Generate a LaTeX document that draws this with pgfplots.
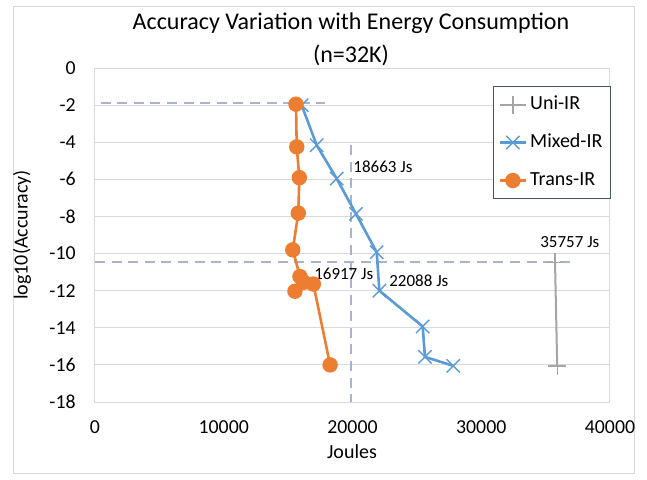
\documentclass[border=0pt]{standalone}
\usepackage{fontspec}
\setmainfont{Carlito}
\usepackage{pgfplots}
\pgfplotsset{compat=1.18}
\definecolor{cOrange}{HTML}{ED7D31}
\definecolor{cBlue}{HTML}{5B9BD5}
\definecolor{cGray}{HTML}{A5A5A5}
\definecolor{cDash}{HTML}{A9B4C8}
\definecolor{cGrid}{HTML}{D9D9D9}
\definecolor{cLeg}{HTML}{44546A}
\begin{document}
\begin{tikzpicture}[x=1pt,y=1pt]
\path (0,0) rectangle (323.5,239.5);
\draw[cGrid, line width=0.5pt] (6.5,3) rectangle (317,236.5);
\node[font=\fontsize{12}{14}\selectfont, inner sep=0pt] at (175.5,228) {Accuracy Variation with Energy Consumption};
\node[font=\fontsize{12}{14}\selectfont, inner sep=0pt] at (175.5,212) {(n=32K)};
\begin{axis}[
  at={(47.5pt,38.5pt)}, anchor=south west,
  scale only axis, width=257.5pt, height=167pt,
  xmin=0, xmax=40000, ymin=-18, ymax=0,
  xtick={0,10000,20000,30000,40000},
  ytick={-18,-16,-14,-12,-10,-8,-6,-4,-2,0},
  scaled ticks=false,
  /pgf/number format/.cd, 1000 sep={}, assume math mode=true, /pgfplots/.cd,
  tick style={draw=none},
  ymajorgrids, grid style={cGrid, line width=0.5pt},
  axis line style={cGrid, line width=0.5pt},
  tick label style={font=\fontsize{9.9}{12}\selectfont, text=black},
  yticklabel style={anchor=east, inner sep=0pt, xshift=-9.5pt},
  xticklabel style={anchor=north, inner sep=0pt, yshift=-9pt},
  xlabel={Joules}, ylabel={log10(Accuracy)},
  label style={font=\fontsize{10}{12}\selectfont},
  xlabel style={at={(axis description cs:0.499,-0.1497)}, anchor=center},
  ylabel style={at={(axis description cs:-0.1417,0.5)}, anchor=center},
  legend style={at={(axis description cs:0.773,0.946)}, anchor=north west,
    draw=cLeg, line width=0.5pt, fill=white, font=\fontsize{10}{12}\selectfont,
    inner xsep=2.5pt, inner ysep=3pt, row sep=7pt,
    nodes={text height=7pt, text depth=2pt, inner sep=1.5pt}},
  legend cell align=left,
  legend image code/.code={\draw[mark repeat=2,mark phase=2,#1] plot coordinates {(0pt,0pt) (6.5pt,0pt) (13pt,0pt)};},
  clip=false,
]
% dashed reference lines
\addplot[cDash, line width=1pt, dash pattern=on 5pt off 3.3pt, forget plot] coordinates {(440,-1.91) (17900,-1.91)};
\addplot[cDash, line width=1pt, dash pattern=on 5pt off 3.3pt, forget plot] coordinates {(0,-10.43) (37200,-10.43)};
\addplot[cDash, line width=1pt, dash pattern=on 5pt off 3.3pt, forget plot] coordinates {(19860,-4.16) (19860,-18)};
% series
\addplot[cGray, line width=1pt, mark=+, mark size=4.5pt, mark options={line width=0.7pt}] coordinates {(35730,-10.47) (35900,-16.05)};
\addlegendentry{Uni-IR}
\addplot[cBlue, line width=1.3pt, mark=x, mark size=4.7pt, mark options={line width=0.7pt}] coordinates {
(16050,-2.0) (17220,-4.16) (18770,-5.96) (20270,-7.86) (21880,-9.93) (22090,-12.0) (25450,-13.93) (25630,-15.57) (27830,-16.05)};
\addlegendentry{Mixed-IR}
\addplot[cOrange, line width=1.3pt, mark=*, mark size=3.2pt, mark options={fill=cOrange, draw=cOrange}] coordinates {
(15610,-1.95) (15670,-4.25) (15870,-5.91) (15790,-7.82) (15360,-9.80) (15920,-11.24) (15530,-12.03) (16230,-11.55) (16960,-11.64) (18260,-16.0)};
\addlegendentry{Trans-IR}
\node[anchor=west, inner sep=0pt, font=\fontsize{8.5}{10}\selectfont] at (axis cs:20040,-5.3) {18663 Js};
\node[anchor=west, inner sep=0pt, font=\fontsize{8.5}{10}\selectfont] at (axis cs:17000,-11.08) {16917 Js};
\node[anchor=west, inner sep=0pt, font=\fontsize{8.5}{10}\selectfont] at (axis cs:22830,-11.46) {22088 Js};
\node[anchor=west, inner sep=0pt, font=\fontsize{8.5}{10}\selectfont] at (axis cs:34560,-9.4) {35757 Js};
\end{axis}
\end{tikzpicture}
\end{document}
